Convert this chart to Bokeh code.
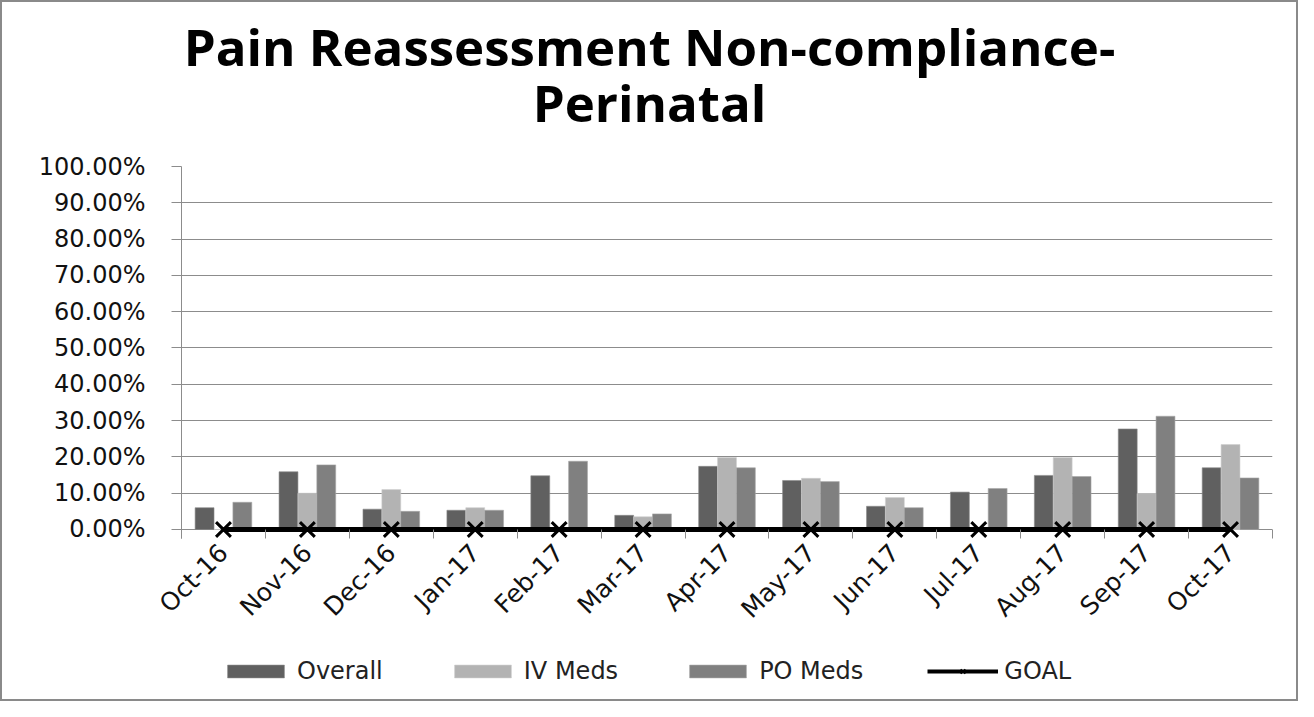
import math
from bokeh.plotting import figure
from bokeh.layouts import column
from bokeh.models import (Range1d, FixedTicker, NumeralTickFormatter, Label, Legend,
                          LegendItem)
from bokeh.embed import file_html
from bokeh.resources import INLINE

title_lines = ["Pain Reassessment Non-compliance-", "Perinatal"]
months = ["Oct-16", "Nov-16", "Dec-16", "Jan-17", "Feb-17", "Mar-17", "Apr-17",
          "May-17", "Jun-17", "Jul-17", "Aug-17", "Sep-17", "Oct-17"]
overall = [0.060, 0.159, 0.056, 0.053, 0.148, 0.039, 0.174, 0.135, 0.064, 0.103, 0.149, 0.277, 0.170]
iv_meds = [0.000, 0.100, 0.110, 0.060, 0.000, 0.035, 0.198, 0.141, 0.088, 0.000, 0.198, 0.099, 0.234]
po_meds = [0.075, 0.178, 0.050, 0.053, 0.188, 0.043, 0.170, 0.132, 0.060, 0.113, 0.146, 0.312, 0.142]
goal = [0.0] * 13
series_names = ["Overall", "IV Meds", "PO Meds", "GOAL"]
colors = ["#606060", "#b3b3b3", "#808080"]
edge_colors = ["#8a8a8a", "#cfcfcf", "#a8a8a8"]

idx = list(range(len(months)))
bw = 0.225
BORDER = "2px solid #8a8a8a"
W = 1298
ML, MR = 179, 28


def blank(fig):
    fig.axis.visible = False
    fig.grid.grid_line_color = None
    fig.outline_line_color = None
    fig.background_fill_color = "white"
    fig.border_fill_color = "white"


# ---- title strip (frame is aligned with the chart frame by the column layout)
pt = figure(width=W, height=150, output_backend="svg", toolbar_location=None,
            x_range=Range1d(0, 1), y_range=Range1d(0, 1),
            min_border_left=ML, min_border_right=MR, min_border_top=0, min_border_bottom=0)
blank(pt)
pt.styles = {"border": BORDER, "border-bottom": "none", "box-sizing": "border-box"}
for txt, yb in zip(title_lines, [107, 51]):
    pt.add_layout(Label(x=468, y=yb, x_units="screen", y_units="screen", text=txt,
                        text_font="Open Sans", text_font_size="51px", text_font_style="bold",
                        text_align="center", text_baseline="alphabetic", text_color="#000000"))

# ---- main chart
p = figure(width=W, height=491, output_backend="svg", toolbar_location=None,
           x_range=Range1d(-0.5, len(months) - 0.5), y_range=Range1d(-0.0248, 1),
           title=None,
           min_border_left=ML, min_border_right=MR, min_border_top=16, min_border_bottom=103)
p.styles = {"border-left": BORDER, "border-right": BORDER, "box-sizing": "border-box"}
p.outline_line_color = None
p.background_fill_color = "white"
p.border_fill_color = "white"

offsets = [-bw, 0, bw]
for vals, off, fc, lc in zip([overall, iv_meds, po_meds], offsets, colors, edge_colors):
    p.vbar(x=[i + off for i in idx], top=vals, width=bw, fill_color=fc,
           line_color=lc, line_width=0.6)
p.line(x=idx, y=goal, line_color="black", line_width=5)
p.scatter(x=idx, y=goal, marker="x", size=21, line_color="black", line_width=3)

p.xaxis.ticker = FixedTicker(ticks=idx, minor_ticks=[i - 0.5 for i in range(len(months) + 1)])
p.xaxis.major_label_overrides = {i: m for i, m in zip(idx, months)}
p.xaxis.major_label_orientation = math.pi / 4
p.xaxis.major_tick_out = 0
p.xaxis.major_tick_in = 0
p.xaxis.minor_tick_out = 0
p.xaxis.minor_tick_in = 9
p.xaxis.minor_tick_line_color = "#8c8c8c"
p.xaxis.axis_line_color = None
p.xaxis.major_label_text_font = "DejaVu Sans"
p.xaxis.major_label_text_font_size = "25px"
p.xaxis.major_label_text_color = "#111111"
p.xaxis.major_label_standoff = 10

p.yaxis.ticker = FixedTicker(ticks=[i / 10 for i in range(11)])
p.yaxis.formatter = NumeralTickFormatter(format="0.00%")
p.yaxis.major_tick_out = 10
p.yaxis.major_tick_in = 0
p.yaxis.minor_tick_line_color = None
p.yaxis.major_tick_line_color = "#8c8c8c"
p.yaxis.axis_line_color = "#8c8c8c"
p.yaxis.major_label_text_font = "DejaVu Sans"
p.yaxis.major_label_text_font_size = "24px"
p.yaxis.major_label_text_color = "#111111"
p.yaxis.major_label_standoff = 26

p.xgrid.grid_line_color = None
p.ygrid.grid_line_color = "#8c8c8c"
p.ygrid.grid_line_width = 1

# ---- legend strip (placeholder glyphs sit outside the visible range)
pl = figure(width=W, height=60, output_backend="svg", toolbar_location=None,
            x_range=Range1d(0, 1), y_range=Range1d(0, 1),
            min_border_left=ML, min_border_right=MR, min_border_top=0, min_border_bottom=0)
blank(pl)
pl.styles = {"border": BORDER, "border-top": "none", "box-sizing": "border-box"}
lr = []
for fc, lc in zip(colors, edge_colors):
    lr.append([pl.vbar(x=[-5], top=[-5], width=0.1, fill_color=fc, line_color=lc, line_width=0.6)])
lr.append([pl.line(x=[-5, -4], y=[-5, -5], line_color="black", line_width=4),
           pl.scatter(x=[-5], y=[-5], marker="x", size=20, line_color="black", line_width=1.5)])
legend = Legend(items=[LegendItem(label=n, renderers=r) for n, r in zip(series_names, lr)],
                orientation="horizontal", location=(39, 16),
                glyph_width=71, glyph_height=16, spacing=64, label_standoff=6,
                label_text_font="DejaVu Sans", label_text_font_size="24px",
                label_text_color="#222222", border_line_color=None,
                background_fill_alpha=0, margin=0, padding=4)
pl.add_layout(legend, "center")

layout = column(pt, p, pl, spacing=0)
open("out.html", "w").write(file_html(layout, INLINE))
